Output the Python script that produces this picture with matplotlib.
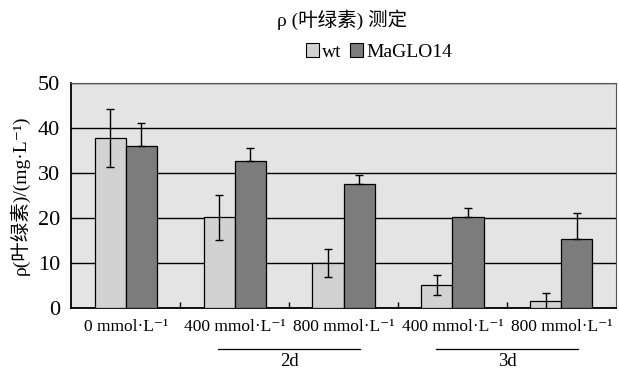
import numpy as np
import matplotlib.pyplot as plt
from matplotlib.patches import Patch

# fonts: serif for latin text, CJK fallback for the Chinese characters
plt.rcParams['font.family'] = ['Liberation Serif', 'DejaVu Serif', 'Noto Sans CJK SC']

# data
categories = ['0 mmol·L⁻¹', '400 mmol·L⁻¹', '800 mmol·L⁻¹', '400 mmol·L⁻¹', '800 mmol·L⁻¹']
wt = [37.8, 20.2, 10.0, 5.1, 1.5]
wt_err = [6.5, 5.0, 3.1, 2.2, 1.8]
mag = [36.0, 32.7, 27.6, 20.2, 15.3]
mag_err = [5.1, 2.9, 2.0, 2.0, 5.8]
groups = ['2d', '3d']

fig = plt.figure(figsize=(6.19, 3.71), dpi=100)
ax = fig.add_axes([0.115, 0.17, 0.88, 0.606])
ax.set_facecolor('#e4e4e4')

x = np.arange(len(categories))
w = 0.285

ax.bar(x - w / 2, wt, w, color='#d2d2d2', edgecolor='black', linewidth=0.9, zorder=3)
ax.bar(x + w / 2, mag, w, color='#7c7c7c', edgecolor='black', linewidth=0.9, zorder=3)
ax.errorbar(x - w / 2, wt, yerr=wt_err, fmt='none', ecolor='black', elinewidth=1,
            capsize=3, zorder=4)
ax.errorbar(x + w / 2, mag, yerr=[np.zeros(len(mag)), mag_err], fmt='none',
            ecolor='black', elinewidth=1, capsize=3, zorder=4)

ax.set_xlim(-0.5, len(categories) - 0.5)
ax.set_ylim(0, 50)
ax.set_yticks([0, 10, 20, 30, 40, 50])
ax.yaxis.grid(True, color='black', linewidth=1)
ax.set_axisbelow(True)
ax.tick_params(axis='y', length=0, labelsize=16, pad=8)

ax.set_xticks(x)
ax.set_xticklabels(categories, fontsize=12.5)
ax.set_xticks(np.arange(0.5, len(categories) - 1, 1), minor=True)
ax.tick_params(axis='x', which='major', length=0, pad=8)
ax.tick_params(axis='x', which='minor', direction='in', length=4.5, width=1)

for s in ['left', 'bottom']:
    ax.spines[s].set_linewidth(1.3)
for s in ['top', 'right']:
    ax.spines[s].set_color('#555555')

ax.set_ylabel('ρ(叶绿素)/(mg·L⁻¹)', fontsize=14, labelpad=6)

# group lines and labels under the axis
for i, g in enumerate(groups):
    c = 1.5 + 2 * i
    ax.plot([c - 0.65, c + 0.65], [-9.2, -9.2], color='black', linewidth=0.9,
            clip_on=False)
    ax.text(c, -11.9, g, ha='center', va='center', fontsize=13.5)

fig.text(0.552, 0.946, 'ρ (叶绿素) 测定', ha='center', va='center', fontsize=14)

handles = [Patch(facecolor='#d2d2d2', edgecolor='black', linewidth=0.8),
           Patch(facecolor='#7c7c7c', edgecolor='black', linewidth=0.8)]
fig.legend(handles, ['wt', 'MaGLO14'], loc='center', bbox_to_anchor=(0.612, 0.86),
           ncol=2, frameon=False, fontsize=14, handlelength=0.7, handleheight=0.7,
           handletextpad=0.15, columnspacing=0.4)

plt.savefig('out.png', dpi=100)
plt.close()
